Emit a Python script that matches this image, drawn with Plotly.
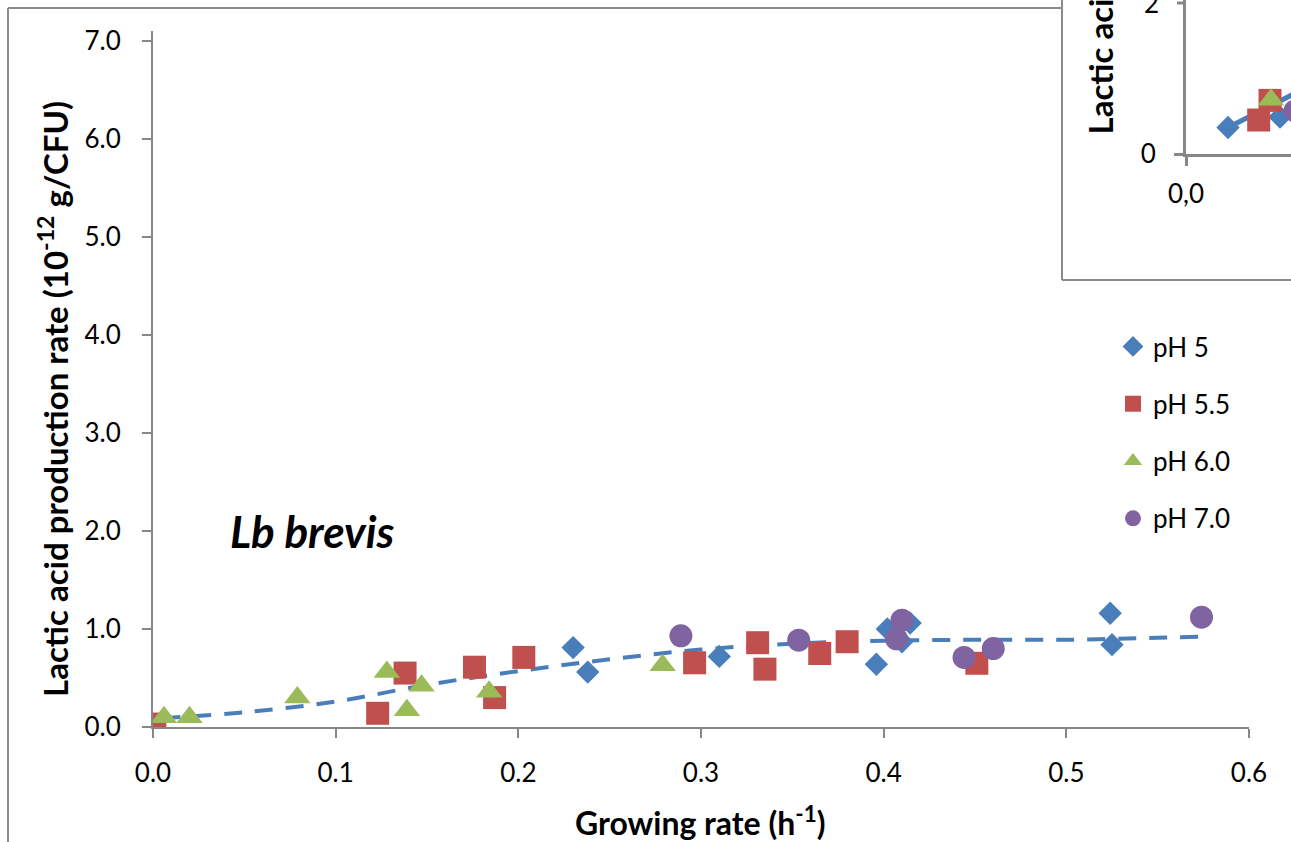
import plotly.graph_objects as go

W, H = 1291, 842

# ---------------- data ----------------
ph5_x = [0.230, 0.238, 0.310, 0.396, 0.402, 0.4145, 0.410, 0.524, 0.525]
ph5_y = [0.81, 0.56, 0.72, 0.64, 1.00, 1.06, 0.87, 1.16, 0.84]

ph55_x = [0.001, 0.123, 0.138, 0.176, 0.187, 0.203, 0.2965, 0.331, 0.335, 0.365, 0.380, 0.451]
ph55_y = [0.03, 0.14, 0.55, 0.61, 0.30, 0.71, 0.655, 0.86, 0.59, 0.75, 0.87, 0.65]

ph60_x = [0.006, 0.020, 0.079, 0.128, 0.139, 0.147, 0.184, 0.279]
ph60_y = [0.10, 0.10, 0.30, 0.56, 0.17, 0.42, 0.36, 0.63]

ph70_x = [0.289, 0.3535, 0.407, 0.410, 0.444, 0.460, 0.574]
ph70_y = [0.93, 0.886, 0.90, 1.09, 0.71, 0.80, 1.12]

trend_x = [0.005, 0.05, 0.10, 0.15, 0.20, 0.25, 0.30, 0.35, 0.40, 0.45, 0.50, 0.55, 0.573]
trend_y = [0.09, 0.15, 0.26, 0.43, 0.57, 0.69, 0.79, 0.85, 0.88, 0.89, 0.89, 0.91, 0.92]

# inset (partly visible second chart)
in5_x, in5_y = [0.042, 0.094], [0.35, 0.49]
in55_x, in55_y = [0.0727, 0.084], [0.45, 0.71]
in60_x, in60_y = [0.085], [0.72]
in70_x, in70_y = [0.109], [0.57]
in_trend_x = [0.042, 0.070, 0.096, 0.110]
in_trend_y = [0.35, 0.54, 0.72, 0.81]
in_y_ticks = [0, 2]
in_x_ticks = [0.0]

x_ticks = [0.0, 0.1, 0.2, 0.3, 0.4, 0.5, 0.6]
y_ticks = [0, 1, 2, 3, 4, 5, 6, 7]

names = ["pH 5", "pH 5.5", "pH 6.0", "pH 7.0"]
colors = ["#4A7EBB", "#C0504D", "#9BBB59", "#8064A2"]

FONT = "Lato"
AX = "#878787"


def px(x):
    return x / W


def py(y):
    return 1 - y / H


fig = go.Figure()

# main chart
fig.add_trace(go.Scatter(x=ph5_x, y=ph5_y, mode="markers", name=names[0], legendgroup="a",
                         marker=dict(symbol="diamond", size=18, color=colors[0])))
fig.add_trace(go.Scatter(x=trend_x, y=trend_y, mode="lines", showlegend=False, hoverinfo="skip",
                         line=dict(color=colors[0], width=4, dash="18px,13px", shape="spline")))
fig.add_trace(go.Scatter(x=ph55_x, y=ph55_y, mode="markers", name=names[1], legendgroup="b",
                         marker=dict(symbol="square", size=23, color=colors[1])))
fig.add_trace(go.Scatter(x=ph60_x, y=ph60_y, mode="markers", name=names[2], legendgroup="c",
                         marker=dict(symbol="triangle-up", size=23, color=colors[2])))
fig.add_trace(go.Scatter(x=ph70_x, y=ph70_y, mode="markers", name=names[3], legendgroup="d",
                         marker=dict(symbol="circle", size=23, color=colors[3])))

# inset chart
fig.add_trace(go.Scatter(x=in_trend_x, y=in_trend_y, mode="lines", showlegend=False, hoverinfo="skip",
                         xaxis="x2", yaxis="y2", line=dict(color=colors[0], width=5)))
fig.add_trace(go.Scatter(x=in5_x, y=in5_y, mode="markers", showlegend=False, xaxis="x2", yaxis="y2",
                         marker=dict(symbol="diamond", size=18, color=colors[0])))
fig.add_trace(go.Scatter(x=in55_x, y=in55_y, mode="markers", showlegend=False, xaxis="x2", yaxis="y2",
                         marker=dict(symbol="square", size=23, color=colors[1])))
fig.add_trace(go.Scatter(x=in60_x, y=in60_y, mode="markers", showlegend=False, xaxis="x2", yaxis="y2",
                         marker=dict(symbol="triangle-up", size=23, color=colors[2])))
fig.add_trace(go.Scatter(x=in70_x, y=in70_y, mode="markers", showlegend=False, xaxis="x2", yaxis="y2",
                         marker=dict(symbol="circle", size=23, color=colors[3])))

axis_common = dict(showline=True, linecolor=AX, linewidth=2, ticks="outside", tickcolor=AX,
                   tickwidth=2, showgrid=False, zeroline=False, automargin=False,
                   tickfont=dict(family=FONT, size=26, color="black"))

fig.update_layout(
    template="none",
    width=W, height=H,
    margin=dict(l=0, r=0, t=0, b=0, autoexpand=False),
    paper_bgcolor="white", plot_bgcolor="rgba(0,0,0,0)",
    xaxis=dict(domain=[px(153), px(1249)], range=[0, 0.6], tickvals=x_ticks,
               ticktext=[f"{v:.1f}" for v in x_ticks], ticklen=9, ticklabelstandoff=13,
               anchor="y", **axis_common),
    yaxis=dict(domain=[py(727), py(31)], range=[0, 7.1], tickvals=y_ticks,
               ticktext=[f"{v:.1f}" for v in y_ticks], ticklen=9, ticklabelstandoff=16,
               anchor="x", **axis_common),
    xaxis2=dict(domain=[px(1186), 1], range=[0, 0.105], tickvals=in_x_ticks, ticktext=["0,0"],
                ticklen=9, ticklabelstandoff=6, anchor="y2",
                **{**axis_common, "linewidth": 3, "tickwidth": 3}),
    yaxis2=dict(domain=[py(154), 1], range=[0, 154 / 75.5], tickvals=in_y_ticks[:1], ticktext=["0"],
                ticklen=9, ticklabelstandoff=13, anchor="x2",
                **{**axis_common, "linewidth": 3, "tickwidth": 3}),
    showlegend=True,
    legend=dict(x=px(1113), y=py(323), xanchor="left", yanchor="top",
                font=dict(family=FONT, size=26, color="black"), tracegroupgap=20.5,
                bgcolor="rgba(0,0,0,0)", itemsizing="trace"),
    font=dict(family=FONT),
)

frame = dict(type="line", xref="paper", yref="paper", line=dict(color="#8C8C8C", width=2))
fig.add_shape(x0=px(8), y0=0, x1=px(8), y1=py(8), **frame)
fig.add_shape(x0=px(8), y0=py(8), x1=px(1062), y1=py(8), **frame)
fig.add_shape(x0=px(1062), y0=1, x1=px(1062), y1=py(280), **frame)
fig.add_shape(x0=px(1062), y0=py(280), x1=1, y1=py(280), **frame)

# inset upper y tick (mark + label, partly cut at the top edge)
fig.add_shape(type="line", xref="paper", yref="y2", x0=px(1177), x1=px(1186),
              y0=in_y_ticks[1], y1=in_y_ticks[1], line=dict(color=AX, width=3))
fig.add_annotation(text=str(in_y_ticks[1]), xref="paper", yref="y2", x=px(1161), y=in_y_ticks[1],
                   xanchor="right", yanchor="middle", showarrow=False,
                   font=dict(family=FONT, size=26, color="black"))

title_font = dict(family=FONT, size=33, color="black")
fig.add_annotation(text="<b>Lactic acid production rate (10<sup>-12</sup> g/CFU)</b>",
                   x=px(53), y=py(399), xref="paper", yref="paper", textangle=-90,
                   xanchor="center", yanchor="middle", showarrow=False, font=title_font)
fig.add_annotation(text="<b>Growing rate (h<sup>-1</sup>)</b>",
                   x=px(700), y=py(821), xref="paper", yref="paper",
                   xanchor="center", yanchor="middle", showarrow=False,
                   font=dict(family=FONT, size=32, color="black"))
fig.add_annotation(text="<b><i>Lb brevis</i></b>",
                   x=px(312), y=py(531), xref="paper", yref="paper",
                   xanchor="center", yanchor="middle", showarrow=False,
                   font=dict(family=FONT, size=44, color="black"))
fig.add_annotation(text="<b>Lactic acid production rate</b>",
                   x=px(1099), y=py(137), xref="paper", yref="paper", textangle=-90,
                   xanchor="center", yanchor="bottom", showarrow=False, font=title_font)

fig.write_html("out.html")
